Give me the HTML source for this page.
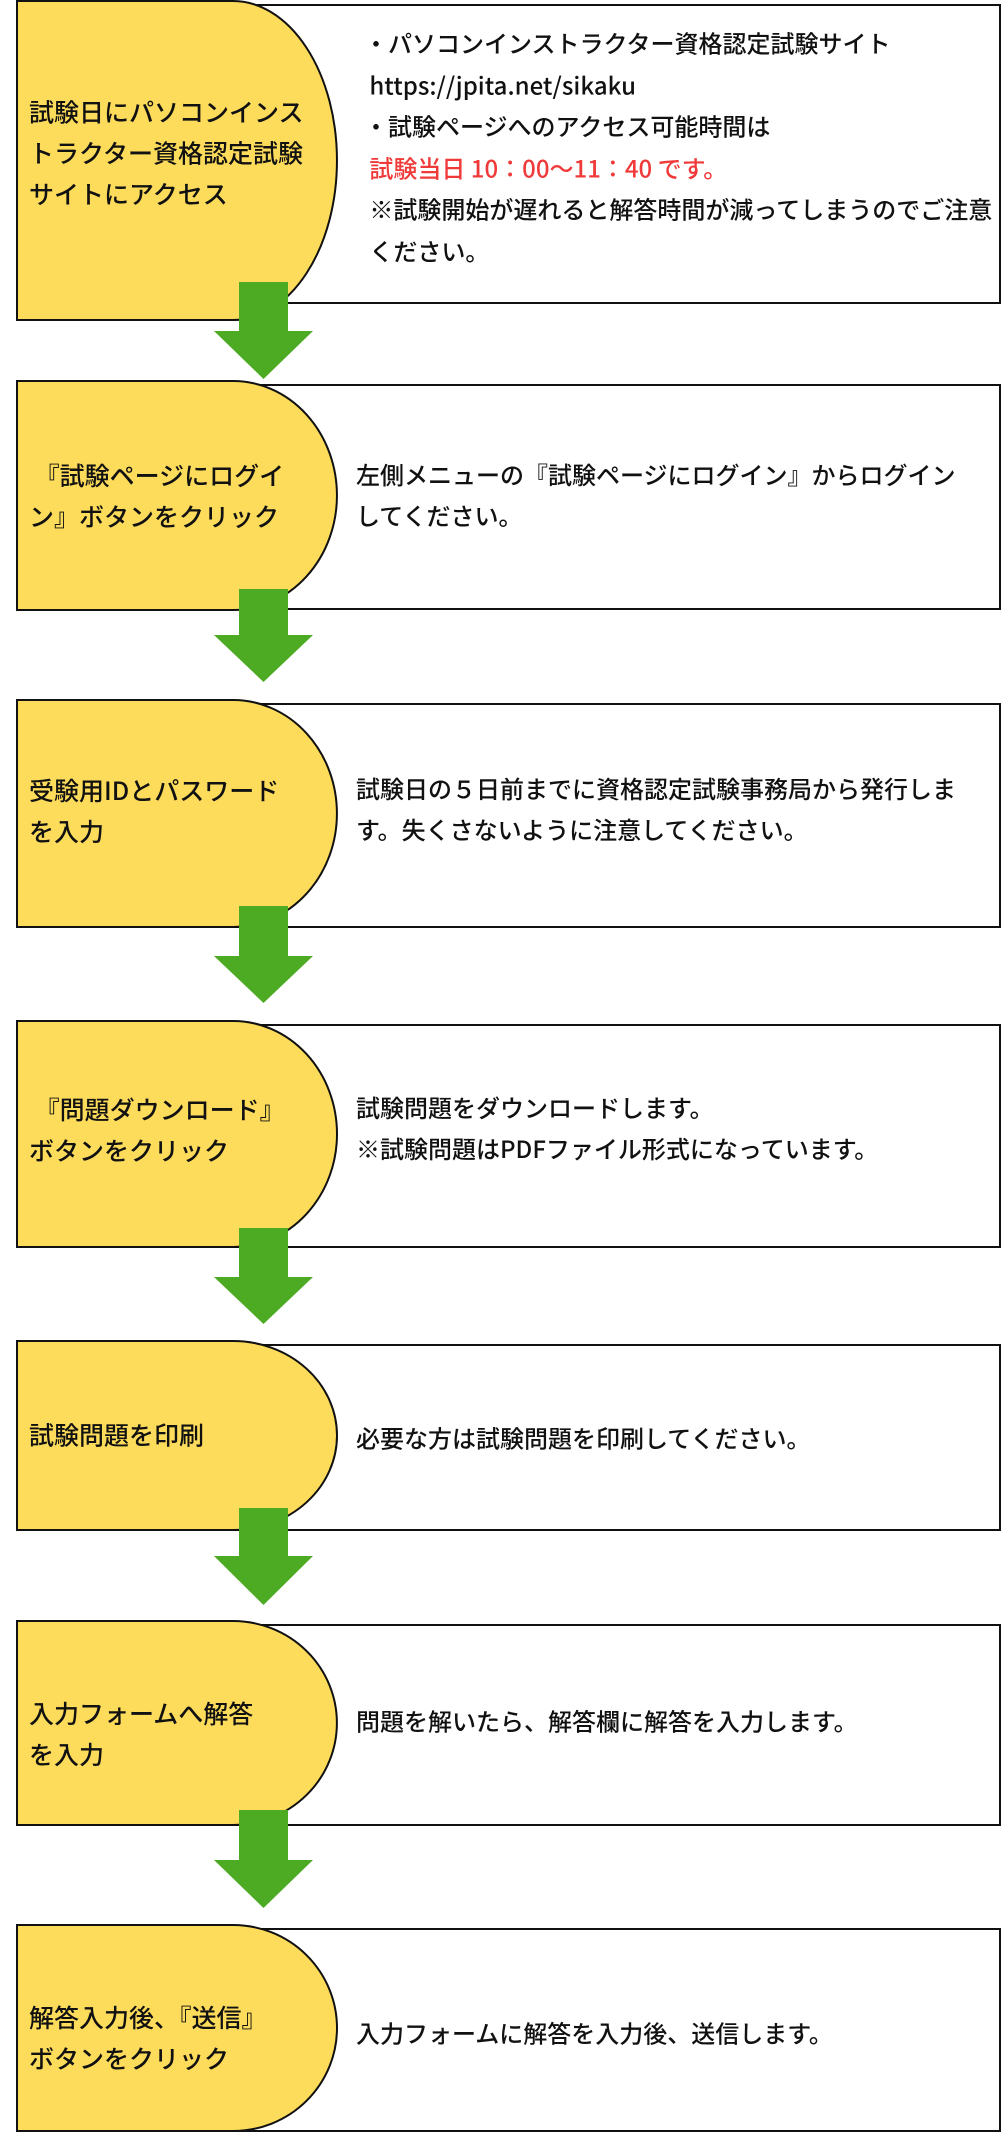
<!DOCTYPE html>
<html><head><meta charset="utf-8">
<style>
body{margin:0;background:#fff;width:1005px;height:2141px;position:relative;overflow:hidden;font-family:"Noto Sans CJK JP","Liberation Sans",sans-serif;}
svg{position:absolute;left:0;top:0}
.t{position:absolute;color:#111;font-size:24px;line-height:41px;font-weight:500;white-space:nowrap;transform:translateY(-50%)}
.y{left:29px;font-size:25px;line-height:41px}
.w{left:356px}
.r{color:#f03a3a}
</style></head><body>
<svg width="1005" height="2141" viewBox="0 0 1005 2141">
<g stroke="#111" stroke-width="2" fill="#fff">
<rect x="230" y="5" width="770" height="298"/>
<rect x="230" y="385" width="770" height="224"/>
<rect x="230" y="704" width="770" height="223"/>
<rect x="230" y="1025" width="770" height="222"/>
<rect x="230" y="1345" width="770" height="185"/>
<rect x="230" y="1625" width="770" height="200"/>
<rect x="230" y="1929" width="770" height="202"/>
</g>
<g stroke="#111" stroke-width="2" fill="#fddc5c">
<path d="M17,1 L233,1 A104,159.5 0 0 1 233,320 L17,320 Z"/>
<path d="M17,381 L233,381 A104,114.5 0 0 1 233,610 L17,610 Z"/>
<path d="M17,700 L233,700 A104,113.5 0 0 1 233,927 L17,927 Z"/>
<path d="M17,1021 L233,1021 A104,113 0 0 1 233,1247 L17,1247 Z"/>
<path d="M17,1341 L233,1341 A104,94.5 0 0 1 233,1530 L17,1530 Z"/>
<path d="M17,1621 L233,1621 A104,102 0 0 1 233,1825 L17,1825 Z"/>
<path d="M17,1925 L233,1925 A104,103 0 0 1 233,2131 L17,2131 Z"/>
</g>
<g fill="#4dab23">
<path d="M239,282 H288 V331 H313 L263.5,379 L214,331 H239 Z"/>
<path d="M239,589 H288 V635 H313 L263.5,682 L214,635 H239 Z"/>
<path d="M239,906 H288 V956 H313 L263.5,1003 L214,956 H239 Z"/>
<path d="M239,1228 H288 V1277 H313 L263.5,1324 L214,1277 H239 Z"/>
<path d="M239,1508 H288 V1556 H313 L263.5,1605 L214,1556 H239 Z"/>
<path d="M239,1810 H288 V1860 H313 L263.5,1908 L214,1860 H239 Z"/>
</g>
</svg>
<div class="t y" style="top:153px">試験日にパソコンインス<br>トラクター資格認定試験<br>サイトにアクセス</div>
<div class="t" style="left:364px;top:146px;line-height:41.5px">・パソコンインストラクター資格認定試験サイト<br>&nbsp;https://jpita.net/sikaku<br>・試験ページへのアクセス可能時間は<br><span class="r">&nbsp;試験当日 10：00〜11：40 です。</span><br>&nbsp;※試験開始が遅れると解答時間が減ってしまうのでご注意<br>&nbsp;ください。</div>

<div class="t y" style="top:496px">&nbsp;『試験ページにログイ<br>ン』ボタンをクリック</div>
<div class="t w" style="top:494px">左側メニューの『試験ページにログイン』からログイン<br>してください。</div>

<div class="t y" style="top:811px">受験用IDとパスワード<br>を入力</div>
<div class="t w" style="top:808px">試験日の５日前までに資格認定試験事務局から発行しま<br>す。失くさないように注意してください。</div>

<div class="t y" style="top:1130px">&nbsp;『問題ダウンロード』<br>ボタンをクリック</div>
<div class="t w" style="top:1127px">試験問題をダウンロードします。<br>※試験問題はPDFファイル形式になっています。</div>

<div class="t y" style="top:1435px">試験問題を印刷</div>
<div class="t w" style="top:1437px">必要な方は試験問題を印刷してください。</div>

<div class="t y" style="top:1734px">入力フォームへ解答<br>を入力</div>
<div class="t w" style="top:1720px">問題を解いたら、解答欄に解答を入力します。</div>

<div class="t y" style="top:2038px">解答入力後、『送信』<br>ボタンをクリック</div>
<div class="t w" style="top:2032px">入力フォームに解答を入力後、送信します。</div>
</body></html>
